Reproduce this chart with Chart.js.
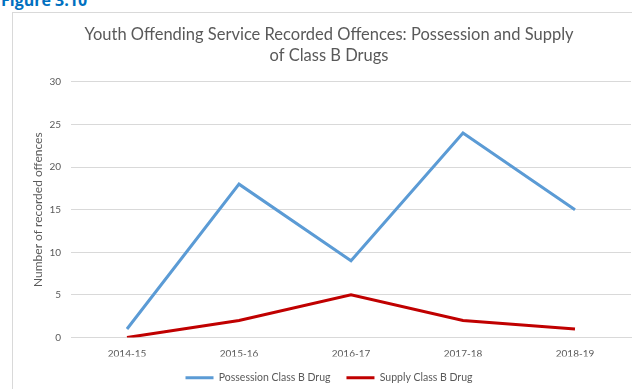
<!DOCTYPE html>
<html>
<head>
<meta charset="utf-8">
<script src="https://cdn.jsdelivr.net/npm/chart.js@4.4.0/dist/chart.umd.min.js"></script>
<style>
    html, body { margin: 0; padding: 0; background: #fff; overflow: hidden; }
    body { width: 632px; height: 389px; position: relative; font-family: Lato, sans-serif; }
    #fig { position: absolute; left: 1px; top: -11px; color: #0070C0; font-weight: bold; font-size: 16px; font-family: "Open Sans", sans-serif; }
    #frame { position: absolute; left: 12px; top: 12px; width: 700px; height: 400px; border-left: 1px solid #d9d9d9; border-top: 1px solid #d9d9d9; }
    #wrap { position: absolute; left: 0; top: 0; width: 632px; height: 389px; }
</style>
</head>
<body>
<div id="fig">Figure 3.10</div>
<div id="frame"></div>
<div id="wrap"><canvas id="offenceChart"></canvas></div>
<script>
// 年度
const years = ['2014-15', '2015-16', '2016-17', '2017-18', '2018-19'];
// 所持
const possession = [1, 18, 9, 24, 15];
// 供給
const supply = [0, 2, 5, 2, 1];
// 縦軸目盛
const yTicks = [0, 5, 10, 15, 20, 25, 30];

const ctx = document.getElementById('offenceChart').getContext('2d');
const chart = new Chart(ctx, {
    type: 'line',
    data: {
        labels: years,
        datasets: [{
            label: 'Possession Class B Drug',
            data: possession,
            borderColor: '#5B9BD5',
            backgroundColor: '#5B9BD5',
            borderWidth: 3,
            pointRadius: 0,
            tension: 0
        }, {
            label: 'Supply Class B Drug',
            data: supply,
            borderColor: '#C00000',
            backgroundColor: '#C00000',
            borderWidth: 3,
            pointRadius: 0,
            tension: 0
        }]
    },
    options: {
        responsive: true,
        maintainAspectRatio: false,
        animation: false,
        layout: { padding: { left: 27, right: 1, top: 24, bottom: -4 } },
        plugins: {
            title: {
                display: true,
                text: ['Youth Offending Service Recorded Offences: Possession and Supply', 'of Class B Drugs'],
                color: '#595959',
                font: { family: 'Lato', size: 16.5, weight: 'normal', lineHeight: 1.27 },
                padding: { top: 0, bottom: 16 }
            },
            legend: {
                position: 'bottom',
                labels: {
                    usePointStyle: true,
                    pointStyle: 'line',
                    pointStyleWidth: 28,
                    color: '#595959',
                    font: { family: 'Lato', size: 10.5 },
                    padding: 16
                }
            },
            tooltip: { enabled: false }
        },
        scales: {
            x: {
                offset: true,
                afterFit: axis => { axis.height = 19; },
                grid: { display: false, drawTicks: false },
                border: { color: '#d9d9d9' },
                ticks: { color: '#595959', font: { family: 'Lato', size: 10 }, padding: 10 }
            },
            y: {
                min: 0,
                max: 30,
                afterBuildTicks: axis => { axis.ticks = yTicks.map(v => ({ value: v })); },
                afterFit: axis => { axis.width = 44; },
                grid: { color: '#d9d9d9', drawTicks: false },
                border: { display: false },
                ticks: { color: '#595959', font: { family: 'Lato', size: 10 }, padding: 10 },
                title: {
                    display: true,
                    text: 'Number of recorded offences',
                    color: '#595959',
                    font: { family: 'Lato', size: 12 },
                    padding: { top: 4, bottom: 2 }
                }
            }
        }
    }
});
</script>
</body>
</html>
